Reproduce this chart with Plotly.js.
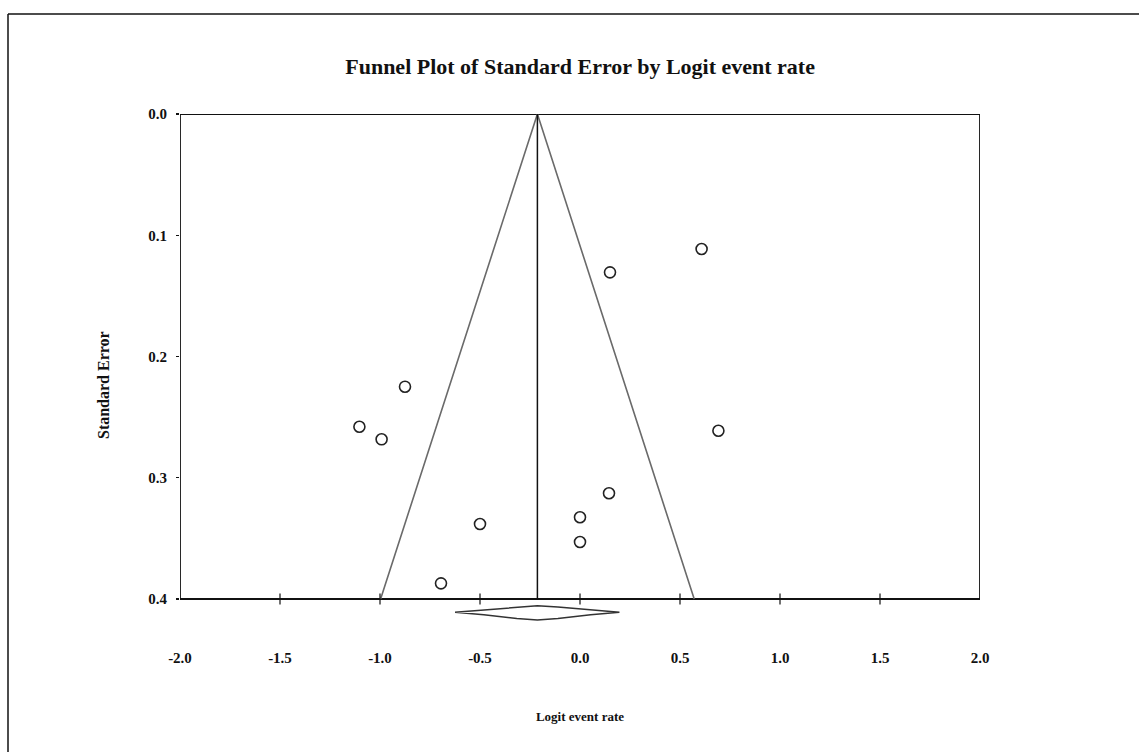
<!DOCTYPE html>
<html>
<head>
<meta charset="utf-8">
<script src="https://cdn.plot.ly/plotly-3.0.1.min.js"></script>
<style>
html,body{margin:0;padding:0;background:#fff;}
#chart{width:1139px;height:752px;}
</style>
</head>
<body>
<div id="chart"></div>
<script>
// ---- data ----
const studyLogit = [-0.875, -1.103, -0.992, -0.500, -0.695, 0.145, 0.000, 0.000, 0.150, 0.608, 0.692];
const studySE    = [0.2249, 0.2579, 0.2683, 0.3381, 0.3871, 0.3128, 0.3326, 0.3530, 0.1306, 0.1113, 0.2612];
const summaryLogit = -0.213;
const summaryCI = [-0.625, 0.197];
const maxSE = 0.4;
const xTickVals = [-2.0, -1.5, -1.0, -0.5, 0.0, 0.5, 1.0, 1.5, 2.0];
const xTickText = ['-2.0', '-1.5', '-1.0', '-0.5', '0.0', '0.5', '1.0', '1.5', '2.0'];
const yTickVals = [0.0, 0.1, 0.2, 0.3, 0.4];
const yTickText = ['0.0', '0.1', '0.2', '0.3', '0.4'];

// ---- derived geometry ----
const z = 1.96;
const funnelX = [summaryLogit - z * maxSE, summaryLogit, summaryLogit + z * maxSE];
const funnelY = [maxSE, 0, maxSE];

// diamond below the axis
const dY = 0.411, dTop = 0.0055, dBot = 0.0063;
const prof = [[0, 0], [0.35, 0.33], [0.75, 0.81], [1, 1]];
const halfL = summaryLogit - summaryCI[0], halfR = summaryCI[1] - summaryLogit;
const dx = [], dy = [];
prof.forEach(p => { dx.push(summaryCI[0] + p[0] * halfL); dy.push(dY - p[1] * dTop); });
prof.slice().reverse().slice(1).forEach(p => { dx.push(summaryCI[1] - p[0] * halfR); dy.push(dY - p[1] * dTop); });
prof.slice(1).forEach(p => { dx.push(summaryCI[1] - p[0] * halfR); dy.push(dY + p[1] * dBot); });
prof.slice().reverse().slice(1).forEach(p => { dx.push(summaryCI[0] + p[0] * halfL); dy.push(dY + p[1] * dBot); });

const serif = 'Liberation Serif, Times New Roman, serif';
const yBottom = 515 / 1212.5;

const traces = [
  {x: funnelX, y: funnelY, mode: 'lines', line: {color: '#6a6a6a', width: 1.6}, hoverinfo: 'skip'},
  {x: [summaryLogit, summaryLogit], y: [0, maxSE], mode: 'lines', line: {color: '#111', width: 1.5}, hoverinfo: 'skip'},
  {x: dx, y: dy, mode: 'lines', fill: 'toself', fillcolor: '#fff', line: {color: '#333', width: 1.5}, hoverinfo: 'skip'},
  {x: xTickVals.slice(1, -1), y: xTickVals.slice(1, -1).map(() => maxSE), mode: 'markers',
   marker: {symbol: 'line-ns-open', size: 8, color: '#111', line: {color: '#111', width: 1.2}}, hoverinfo: 'skip'},
  {x: studyLogit, y: studySE, mode: 'markers',
   marker: {symbol: 'circle-open', size: 11, color: '#222', line: {color: '#222', width: 1.6}}}
];

const frameX = (8 - 180) / 800, frameY = 1 + (114 - 14) / 515;
const layout = {
  width: 1139, height: 752,
  margin: {l: 180, r: 159, t: 114, b: 123},
  paper_bgcolor: '#fff', plot_bgcolor: '#fff',
  showlegend: false,
  title: {text: 'Funnel Plot of Standard Error by Logit event rate',
          font: {family: serif, size: 22, color: '#111', weight: 'bold'},
          x: 0.5093, xanchor: 'center', y: 1 - 66 / 752, yanchor: 'middle', yref: 'container', xref: 'container'},
  xaxis: {range: [-2, 2], showgrid: false, zeroline: false, showline: false,
          tickvals: xTickVals, ticktext: xTickText, ticks: '', ticklabelstandoff: 18,
          tickfont: {family: serif, size: 15, color: '#111', weight: 'bold'},
          title: {text: 'Logit event rate', font: {family: serif, size: 13, color: '#111', weight: 'bold'}, standoff: 46}},
  yaxis: {range: [yBottom, 0], showgrid: false, zeroline: false, showline: false,
          tickvals: yTickVals, ticktext: yTickText, ticks: 'outside', ticklen: 3, tickcolor: '#111', tickwidth: 1.2,
          ticklabelstandoff: 6,
          tickfont: {family: serif, size: 15, color: '#111', weight: 'bold'}},
  annotations: [
    {text: 'Standard Error', xref: 'paper', yref: 'paper', x: (103 - 180) / 800, y: (629 - 385) / 515,
     xanchor: 'center', yanchor: 'middle', textangle: -90, showarrow: false,
     font: {family: serif, size: 16, color: '#111', weight: 'bold'}}
  ],
  shapes: [
    {type: 'rect', xref: 'x', yref: 'y', x0: -2, x1: 2, y0: 0, y1: maxSE, line: {color: '#111', width: 1.8}, layer: 'below'},
    {type: 'line', xref: 'paper', yref: 'paper', x0: frameX, x1: frameX, y0: frameY, y1: -0.25, line: {color: '#111', width: 1.5}},
    {type: 'line', xref: 'paper', yref: 'paper', x0: frameX, x1: 1.25, y0: frameY, y1: frameY, line: {color: '#111', width: 1.5}}
  ]
};

Plotly.newPlot('chart', traces, layout, {staticPlot: true, displayModeBar: false});
</script>
</body>
</html>
